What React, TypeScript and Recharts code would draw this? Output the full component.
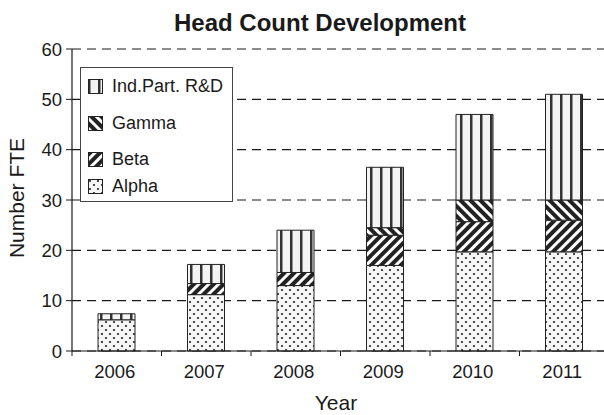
import React from 'react';
import {
  BarChart,
  Bar,
  XAxis,
  YAxis,
  CartesianGrid,
} from 'recharts';

// values (FTE)
const years = ['2006', '2007', '2008', '2009', '2010', '2011'];
const alpha = [6.2, 11.2, 13, 17, 19.7, 19.7];
const beta = [0, 2.2, 2.6, 6, 6, 6.3];
const gamma = [0, 0, 0, 1.5, 4.3, 4];
const indPart = [1.2, 3.8, 8.4, 12, 17, 21];
const yTicks = [0, 10, 20, 30, 40, 50, 60];

const SERIES = [
  { key: 'alpha', name: 'Alpha', fill: 'url(#patAlpha)' },
  { key: 'beta', name: 'Beta', fill: 'url(#patBeta)' },
  { key: 'gamma', name: 'Gamma', fill: 'url(#patGamma)' },
  { key: 'indPart', name: 'Ind.Part. R&D', fill: 'url(#patInd)' },
];

const data = years.map((year, i) => ({
  year,
  alpha: alpha[i],
  beta: beta[i],
  gamma: gamma[i],
  indPart: indPart[i],
}));

const FONT = '"Liberation Sans", Arial, Helvetica, sans-serif';
const W = 612;
const H = 415;
const PLOT_LEFT = 72;
const PLOT_RIGHT = 609;
const PLOT_TOP = 49;
const PLOT_BOTTOM = 351;
const BAND = (PLOT_RIGHT - PLOT_LEFT) / years.length;
const INK = '#1a1a1a';

function Patterns() {
  return (
    <svg width={0} height={0} style={{ position: 'absolute' }}>
      <defs>
        <pattern id="patAlpha" width={8} height={8} patternUnits="userSpaceOnUse">
          <rect width={8} height={8} fill="#f6f6f6" />
          <circle cx={2} cy={2} r={1.1} fill="#222" />
          <circle cx={6} cy={6} r={1.1} fill="#222" />
        </pattern>
        <pattern id="patBeta" width={7} height={7} patternUnits="userSpaceOnUse" patternTransform="rotate(45)">
          <rect width={7} height={7} fill="#fff" />
          <rect width={4} height={7} fill="#222" />
        </pattern>
        <pattern id="patGamma" width={7} height={7} patternUnits="userSpaceOnUse" patternTransform="rotate(-45)">
          <rect width={7} height={7} fill="#fff" />
          <rect width={4} height={7} fill="#222" />
        </pattern>
        <pattern id="patInd" width={10} height={10} patternUnits="userSpaceOnUse">
          <rect width={10} height={10} fill="#f4f4f4" />
          <rect x={0} width={2.5} height={10} fill="#333" />
        </pattern>
      </defs>
    </svg>
  );
}

function XTick(props: any) {
  const { x, payload } = props;
  const edge = x - BAND / 2;
  return (
    <g>
      <line x1={edge} x2={edge} y1={PLOT_BOTTOM} y2={PLOT_BOTTOM + 5} stroke={INK} />
      <text
        x={x - 2}
        y={PLOT_BOTTOM + 27}
        textAnchor="middle"
        fontSize={18.5}
        fontFamily={FONT}
        fill={INK}
      >
        {payload.value}
      </text>
    </g>
  );
}

function LegendBox() {
  const items = [...SERIES].reverse();
  const rowsY = [7, 44, 80, 107];
  return (
    <div
      style={{
        position: 'absolute',
        left: 80,
        top: 67,
        width: 153,
        height: 135,
        border: '1px solid #444',
        background: '#fff',
        boxSizing: 'border-box',
        fontFamily: FONT,
      }}
    >
      {items.map((s, i) => (
        <div
          key={s.key}
          style={{
            position: 'absolute',
            left: 7,
            top: rowsY[i],
            display: 'flex',
            alignItems: 'center',
            fontSize: 18,
            lineHeight: '22px',
            color: INK,
            whiteSpace: 'nowrap',
          }}
        >
          <svg width={15} height={15} style={{ marginRight: 9 }}>
            <rect x={0.5} y={0.5} width={14} height={14} fill={s.fill} stroke="#222" />
          </svg>
          {s.name}
        </div>
      ))}
    </div>
  );
}

export default function App() {
  return (
    <div
      style={{
        position: 'absolute',
        left: 0,
        top: 0,
        width: 604,
        height: 415,
        overflow: 'hidden',
        background: '#fff',
      }}
    >
      <Patterns />
      <BarChart
        width={W}
        height={H}
        data={data}
        margin={{ top: PLOT_TOP, right: W - PLOT_RIGHT, left: 0, bottom: 0 }}
        barSize={37}
      >
        <CartesianGrid
          vertical={false}
          stroke={INK}
          strokeDasharray="9 6"
          strokeWidth={1.2}
        />
        <XAxis
          dataKey="year"
          height={H - PLOT_BOTTOM}
          axisLine={{ stroke: INK, strokeWidth: 1.2 }}
          tickLine={false}
          tick={<XTick />}
          interval={0}
        />
        <YAxis
          width={PLOT_LEFT}
          domain={[0, 60]}
          ticks={yTicks}
          interval={0}
          axisLine={{ stroke: INK, strokeWidth: 1.2 }}
          tickLine={{ stroke: INK }}
          tickSize={6}
          tickMargin={4}
          tick={{ fill: INK, fontSize: 18.5, fontFamily: FONT }}
        />
        {SERIES.map((s) => (
          <Bar
            key={s.key}
            dataKey={s.key}
            name={s.name}
            stackId="fte"
            fill={s.fill}
            stroke="#222"
            strokeWidth={1}
            isAnimationActive={false}
          />
        ))}
      </BarChart>
      <LegendBox />
      <svg
        width={604}
        height={415}
        style={{ position: 'absolute', left: 0, top: 0, pointerEvents: 'none' }}
      >
        <text
          x={320}
          y={31}
          textAnchor="middle"
          fontSize={24}
          fontWeight="bold"
          fontFamily={FONT}
          fill={INK}
        >
          Head Count Development
        </text>
        <text
          x={0}
          y={0}
          transform="translate(24, 198) rotate(-90)"
          textAnchor="middle"
          fontSize={21}
          fontFamily={FONT}
          fill={INK}
        >
          Number FTE
        </text>
        <text
          x={336}
          y={410}
          textAnchor="middle"
          fontSize={21}
          fontFamily={FONT}
          fill={INK}
        >
          Year
        </text>
      </svg>
    </div>
  );
}
